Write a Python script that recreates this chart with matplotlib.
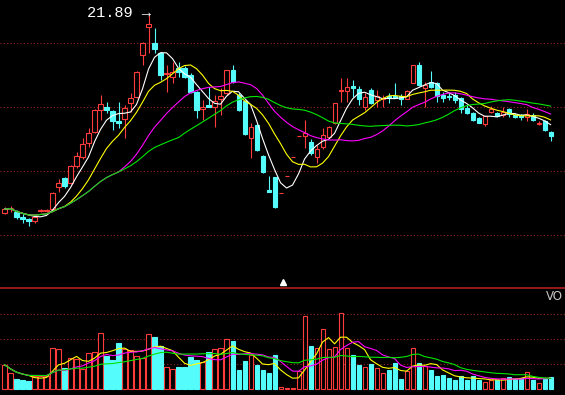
import numpy as np
import pandas as pd
import matplotlib
matplotlib.use("Agg")
import matplotlib.pyplot as plt
from matplotlib.patches import Rectangle
from matplotlib.lines import Line2D

# daily OHLC
opens = [15.69, 15.84, 15.72, 15.56, 15.50, 15.44, 15.75, 15.75, 15.81, 16.50,
         16.78, 16.63, 17.16, 17.44, 17.88, 18.22, 18.91, 19.00, 18.88, 18.56,
         18.63, 19.13, 19.31, 20.63, 21.50, 21.00, 20.69, 20.03, 19.94, 20.22,
         20.22, 20.00, 19.47, 18.94, 19.06, 19.00, 19.25, 19.44, 20.16, 19.38,
         19.19, 18.03, 18.44, 17.47, 16.41, 16.81, 16.31, 16.84, 17.44, 18.09,
         18.09, 17.91, 17.44, 17.75, 18.06, 18.50, 19.50, 19.50, 19.66, 19.56,
         19.00, 19.53, 19.22, 19.25, 19.34, 19.34, 19.34, 19.25, 19.75, 20.31,
         19.59, 19.78, 19.75, 19.38, 19.34, 19.38, 19.28, 18.97, 18.81, 18.66,
         18.47, 18.84, 18.81, 18.75, 18.94, 18.75, 18.75, 18.69, 18.75, 18.48,
         18.56, 18.22]
highs = [15.88, 15.91, 15.78, 15.66, 15.53, 15.63, 15.81, 15.81, 16.34, 16.75,
         16.81, 17.19, 17.59, 18.03, 18.34, 18.94, 19.38, 19.16, 18.91, 19.16,
         19.06, 19.44, 20.13, 21.03, 21.89, 21.47, 20.72, 20.31, 20.41, 20.41,
         20.28, 20.06, 19.50, 19.22, 19.63, 19.38, 19.59, 20.16, 20.31, 19.44,
         19.22, 18.50, 18.47, 17.50, 16.84, 16.81, 16.31, 16.84, 17.44, 18.09,
         18.59, 18.00, 17.81, 18.34, 18.41, 19.13, 19.91, 19.91, 19.84, 19.66,
         19.44, 19.59, 19.53, 19.38, 19.44, 19.75, 19.41, 19.53, 20.31, 20.41,
         19.78, 20.13, 19.78, 19.47, 19.47, 19.47, 19.31, 19.06, 18.84, 18.69,
         18.72, 19.03, 18.84, 19.00, 18.97, 18.81, 18.78, 18.94, 18.81, 18.56,
         18.59, 18.25]
lows = [15.66, 15.72, 15.50, 15.38, 15.28, 15.38, 15.72, 15.72, 15.78, 16.34,
        16.47, 16.59, 17.09, 17.38, 17.75, 18.19, 18.59, 18.81, 18.28, 18.34,
        18.03, 18.84, 19.28, 20.31, 20.69, 20.69, 19.84, 19.47, 19.75, 19.94,
        19.91, 19.44, 18.66, 18.59, 19.00, 18.38, 18.75, 19.38, 19.75, 18.88,
        18.13, 17.41, 17.63, 16.94, 16.34, 15.84, 16.31, 16.84, 17.44, 18.09,
        17.72, 17.50, 17.25, 17.69, 18.03, 18.47, 19.16, 19.16, 19.31, 19.06,
        18.91, 19.09, 19.00, 19.00, 19.13, 19.28, 19.06, 19.25, 19.75, 19.66,
        19.00, 19.59, 19.16, 19.16, 19.22, 19.13, 18.81, 18.78, 18.56, 18.50,
        18.41, 18.81, 18.69, 18.69, 18.69, 18.66, 18.59, 18.56, 18.56, 18.44,
        18.25, 17.94]
closes = [15.81, 15.84, 15.56, 15.50, 15.44, 15.56, 15.78, 15.78, 16.31, 16.63,
          16.53, 17.16, 17.47, 17.84, 18.19, 18.91, 19.09, 18.91, 18.56, 18.50,
          18.97, 19.28, 20.09, 21.00, 21.59, 20.81, 20.00, 20.06, 20.09, 20.09,
          19.94, 19.47, 18.91, 19.00, 19.00, 19.19, 19.34, 20.16, 19.78, 18.91,
          18.16, 18.38, 17.66, 16.97, 16.34, 15.88, 16.31, 16.84, 17.44, 18.09,
          18.19, 17.56, 17.69, 18.13, 18.38, 19.13, 19.53, 19.63, 19.59, 19.25,
          19.31, 19.13, 19.34, 19.28, 19.28, 19.28, 19.25, 19.50, 20.31, 19.69,
          19.69, 19.63, 19.34, 19.28, 19.31, 19.22, 18.94, 18.81, 18.59, 18.50,
          18.72, 18.94, 18.72, 18.84, 18.78, 18.69, 18.69, 18.78, 18.59, 18.50,
          18.28, 18.09]
# volume (万手)
vols = [0.97, 0.64, 0.41, 0.37, 0.33, 0.53, 0.53, 0.53, 1.64, 1.60,
        0.84, 1.24, 1.20, 0.81, 1.44, 1.48, 2.24, 1.33, 1.17, 1.84,
        1.61, 1.57, 1.33, 1.24, 2.20, 2.08, 1.71, 0.88, 0.80, 0.88,
        0.88, 1.28, 1.17, 1.07, 1.47, 1.60, 1.64, 2.00, 1.93, 0.77,
        1.13, 1.36, 0.97, 0.77, 0.64, 1.37, 0.07, 0.04, 0.04, 0.71,
        2.93, 1.71, 1.64, 2.40, 1.60, 1.68, 3.04, 1.64, 1.35, 0.97,
        0.88, 1.01, 0.84, 0.64, 0.77, 1.04, 0.41, 0.71, 1.64, 1.04,
        0.93, 0.75, 0.53, 0.57, 0.44, 0.35, 0.53, 0.35, 0.51, 0.35,
        0.28, 0.35, 0.35, 0.44, 0.48, 0.40, 0.44, 0.67, 0.37, 0.24,
        0.40, 0.48]
price_grid = [15, 17, 19, 21]
vol_grid = [1, 2, 3]
price_ma = [(5, "#ffffff"), (10, "#ffff00"), (20, "#ff00ff"), (30, "#00e600")]
vol_ma = [(5, "#ffff00"), (10, "#ff00ff"), (20, "#00e600")]

BG, UP, DOWN = "#000000", "#ff3c3c", "#54fcfc"
GRID, SEP = "#9a2424", "#b41e1e"
W = 0.68


def bars(ax, x, bottom, top, up, wick=None):
    col = UP if up else DOWN
    if wick is not None:
        ax.vlines(x, wick[0], wick[1], color=col, lw=0.8, zorder=2)
    ax.add_patch(Rectangle((x - W / 2, bottom), W, top - bottom,
                           facecolor=BG if up else col, edgecolor=col,
                           lw=0.8, zorder=3))


fig = plt.figure(figsize=(5.65, 3.95), dpi=100, facecolor=BG)
ax = fig.add_axes([0, 108 / 395, 1, 287 / 395], facecolor=BG)
axv = fig.add_axes([0, 0, 1, 107 / 395], facecolor=BG)

n = len(closes)
x = np.arange(n)
for i in x:
    o, h, l, c = opens[i], highs[i], lows[i], closes[i]
    up = c >= o
    bars(ax, i, min(o, c), max(o, c), up, wick=(l, h))
    bars(axv, i, 0, vols[i], up)

cs = pd.Series(closes)
for win, col in price_ma:
    ax.plot(x, cs.rolling(win, min_periods=1).mean(), color=col, lw=0.8, zorder=4)
vs = pd.Series(vols)
for win, col in vol_ma:
    axv.plot(x, vs.rolling(win, min_periods=1).mean(), color=col, lw=0.8, zorder=4)

for g in price_grid:
    ax.axhline(g, color=GRID, lw=0.8, ls=(0, (1, 2)), zorder=1)
for g in vol_grid:
    axv.axhline(g, color=GRID, lw=0.8, ls=(0, (1, 2)), zorder=1)

ax.set_xlim(-0.75, 93.4); axv.set_xlim(-0.75, 93.4)
ax.set_ylim(13.375, 22.344)
axv.set_ylim(-0.24, 4.04)
for a in (ax, axv):
    a.set_xticks([]); a.set_yticks([])
    for s in a.spines.values():
        s.set_visible(False)

# highest price label
imax = int(np.argmax(highs))
ax.annotate(f"{highs[imax]:.2f} →", xy=(imax, highs[imax]), xytext=(2, 1),
            textcoords="offset points", ha="right", va="center", color="white",
            fontsize=11, family=["Liberation Mono", "DejaVu Sans Mono"])

ax.plot([283 / 565], [0.016], marker="^", ms=4, color="white",
        transform=ax.transAxes, clip_on=False)
fig.add_artist(Line2D([0, 1], [107.5 / 395, 107.5 / 395], color=SEP, lw=1.2))
fig.text(563 / 565, 1 - 297 / 395, "VO", color="#c8c8c8", fontsize=8.5,
         va="center", ha="right")

fig.savefig("out.png", dpi=100, facecolor=BG)
